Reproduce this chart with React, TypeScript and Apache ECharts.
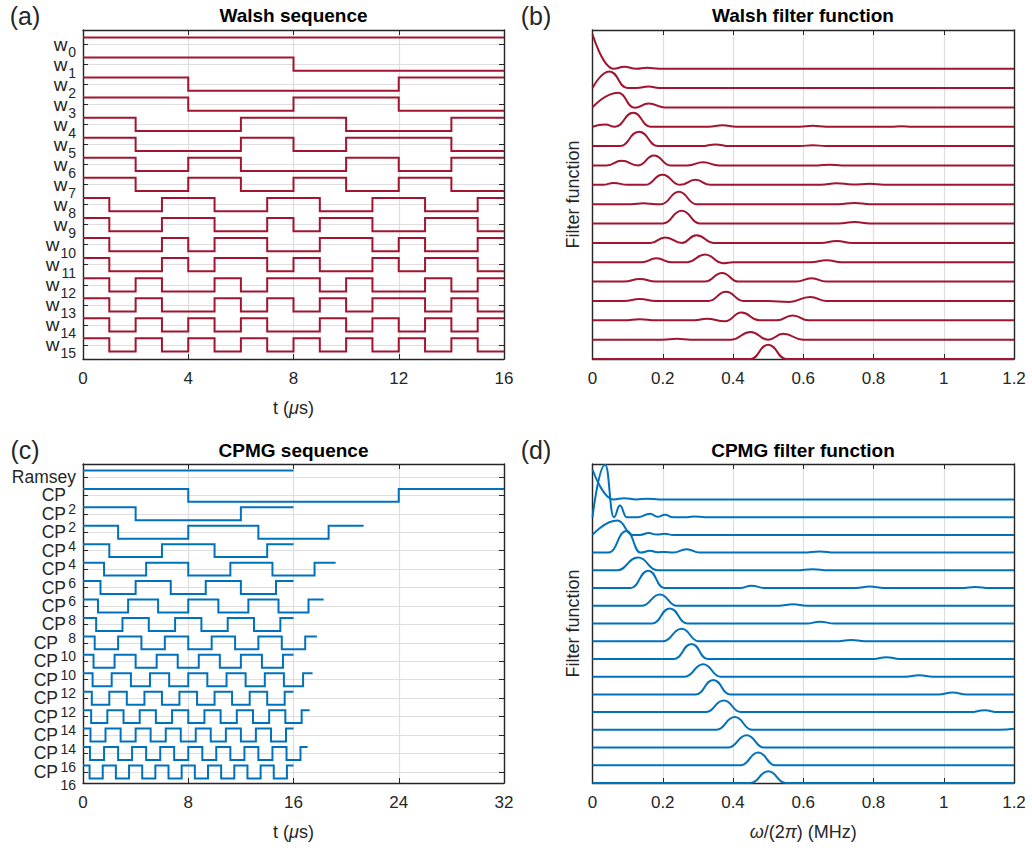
import React, { useEffect, useRef } from "react";
import * as echarts from "echarts";

// ---------------- data ----------------
const walshSubs = ["0", "1", "2", "3", "4", "5", "6", "7", "8", "9", "10", "11", "12", "13", "14", "15"];
// sign of each 1 µs slot
const walshRows = [
  "++++++++++++++++",
  "++++++++--------",
  "++++--------++++",
  "++++----++++----",
  "++----++++----++",
  "++----++--++++--",
  "++--++----++--++",
  "++--++--++--++--",
  "+--++--++--++--+",
  "+--++--+-++--++-",
  "+--+-++--++-+--+",
  "+--+-++-+--+-++-",
  "+-+--+-++-+--+-+",
  "+-+--+-+-+-++-+-",
  "+-+-+-+--+-+-+-+",
  "+-+-+-+-+-+-+-+-",
];
const walshSlotEdges = [0, 1, 2, 3, 4, 5, 6, 7, 8, 9, 10, 11, 12, 13, 14, 15, 16];

const cpNames = ["Ramsey", "CP", "CP", "CP", "CP", "CP", "CP", "CP", "CP", "CP", "CP", "CP", "CP", "CP", "CP", "CP", "CP"];
const cpSubs = ["", "2", "2", "4", "4", "6", "6", "8", "8", "10", "10", "12", "12", "14", "14", "16", "16"];
// switching times (µs) of each CPMG row, first level is "+"
const cpSwitchTimes = [
  [0, 16],
  [0, 8, 24, 32],
  [0, 4, 12, 16],
  [0, 2.67, 8, 13.33, 18.67, 21.33],
  [0, 2, 6, 10, 14, 16],
  [0, 1.6, 4.8, 8, 11.2, 14.4, 17.6, 19.2],
  [0, 1.33, 4, 6.67, 9.33, 12, 14.67, 16],
  [0, 1.14, 3.43, 5.71, 8, 10.29, 12.57, 14.86, 17.14, 18.29],
  [0, 1, 3, 5, 7, 9, 11, 13, 15, 16],
  [0, 0.89, 2.67, 4.44, 6.22, 8, 9.78, 11.56, 13.33, 15.11, 16.89, 17.78],
  [0, 0.8, 2.4, 4, 5.6, 7.2, 8.8, 10.4, 12, 13.6, 15.2, 16],
  [0, 0.73, 2.18, 3.64, 5.09, 6.55, 8, 9.45, 10.91, 12.36, 13.82, 15.27, 16.73, 17.45],
  [0, 0.67, 2, 3.33, 4.67, 6, 7.33, 8.67, 10, 11.33, 12.67, 14, 15.33, 16],
  [0, 0.62, 1.85, 3.08, 4.31, 5.54, 6.77, 8, 9.23, 10.46, 11.69, 12.92, 14.15, 15.38, 16.62, 17.23],
  [0, 0.57, 1.71, 2.86, 4, 5.14, 6.29, 7.43, 8.57, 9.71, 10.86, 12, 13.14, 14.29, 15.43, 16],
  [0, 0.53, 1.6, 2.67, 3.73, 4.8, 5.87, 6.93, 8, 9.07, 10.13, 11.2, 12.27, 13.33, 14.4, 15.47, 16.53, 17.07],
  [0, 0.5, 1.5, 2.5, 3.5, 4.5, 5.5, 6.5, 7.5, 8.5, 9.5, 10.5, 11.5, 12.5, 13.5, 14.5, 15.5, 16],
];

// Walsh filter functions: [frequency (MHz), height above own baseline]
const walshFilter = [
  [[0, 1.78], [0.06, 0], [0.09, 0.1], [0.125, 0], [0.155, 0.05], [0.19, 0], [1.2, 0]],
  [[0, 0], [0.048, 0.86], [0.1, 0], [0.125, 0], [0.16, 0.08], [0.19, 0], [1.2, 0]],
  [[0, 0], [0.073, 0.76], [0.12, -0.02], [0.16, 0.2], [0.205, 0], [1.2, 0]],
  [[0, 0], [0.036, 0.12], [0.064, 0], [0.116, 0.72], [0.165, 0], [0.33, 0], [0.37, 0.08], [0.41, 0], [0.59, 0], [0.627, 0.05], [0.665, 0], [0.85, 0], [0.88, 0.03], [0.91, 0], [1.2, 0]],
  [[0, 0], [0.078, 0], [0.132, 0.74], [0.187, 0], [0.31, 0], [0.35, 0.09], [0.39, 0], [0.59, 0], [0.627, 0.05], [0.665, 0], [1.2, 0]],
  [[0, 0], [0.04, 0], [0.083, 0.24], [0.13, 0], [0.175, 0.52], [0.222, 0], [0.27, 0], [0.315, 0.16], [0.36, 0], [0.64, 0], [0.675, 0.04], [0.71, 0], [1.2, 0]],
  [[0, 0], [0.03, 0], [0.06, 0.1], [0.1, 0], [0.15, 0], [0.199, 0.52], [0.25, 0], [0.293, 0.26], [0.335, 0], [0.65, 0], [0.695, 0.08], [0.74, 0.02], [0.79, 0.05], [0.83, 0], [1.2, 0]],
  [[0, 0], [0.11, 0], [0.145, 0.05], [0.18, 0], [0.195, 0], [0.246, 0.64], [0.296, 0], [0.7, 0], [0.746, 0.06], [0.79, 0], [1.2, 0]],
  [[0, 0], [0.2, 0], [0.254, 0.66], [0.306, 0], [0.7, 0], [0.746, 0.08], [0.79, 0], [1.2, 0]],
  [[0, 0], [0.165, 0], [0.207, 0.28], [0.254, 0], [0.296, 0.4], [0.345, 0], [0.65, 0], [0.695, 0.1], [0.74, 0], [1.2, 0]],
  [[0, 0], [0.14, 0], [0.182, 0.2], [0.225, 0], [0.27, 0], [0.32, 0.4], [0.372, -0.05], [0.4, 0], [0.62, 0], [0.667, 0.1], [0.71, 0], [1.2, 0]],
  [[0, 0], [0.09, 0], [0.135, 0.14], [0.18, 0], [0.32, 0], [0.369, 0.45], [0.415, 0], [0.58, 0], [0.624, 0.17], [0.665, 0], [1.2, 0]],
  [[0, 0], [0.09, 0], [0.135, 0.1], [0.18, 0], [0.33, 0], [0.38, 0.47], [0.43, 0], [0.5, 0], [0.56, -0.05], [0.62, 0.21], [0.665, 0], [1.2, 0]],
  [[0, 0], [0.09, 0], [0.135, 0.06], [0.18, 0], [0.29, 0], [0.325, 0.08], [0.377, -0.05], [0.424, 0.4], [0.475, 0], [0.525, 0], [0.57, 0.25], [0.615, 0], [1.2, 0]],
  [[0, 0], [0.2, 0], [0.24, 0.04], [0.28, 0], [0.395, 0], [0.45, 0.4], [0.5, 0], [0.543, 0.3], [0.6, 0], [1.2, 0]],
  [[0, 0], [0.45, 0], [0.5, 0.74], [0.552, 0], [1.2, 0]],
];

// CPMG filter functions: [frequency (MHz), height above own baseline]
const cpmgFilter = [
  [[0, 1.69], [0.06, 0], [0.09, 0.07], [0.125, 0], [0.155, 0.04], [0.19, 0], [1.2, 0]],
  [[0, 0], [0.036, 2.96], [0.061, 0], [0.078, 0.66], [0.097, 0], [0.13, 0], [0.164, 0.19], [0.185, 0.02], [0.206, 0.13], [0.23, 0], [0.27, 0], [0.29, 0.04], [0.32, 0], [1.2, 0]],
  [[0, 0], [0.071, 0.81], [0.115, 0], [0.135, 0], [0.16, 0.1], [0.183, 0.02], [0.205, 0.06], [0.23, 0], [1.2, 0]],
  [[0, 0], [0.045, 0], [0.097, 1.22], [0.137, 0], [0.164, 0.1], [0.185, 0.02], [0.205, 0.04], [0.23, 0], [0.268, 0.19], [0.305, 0], [0.6, 0], [0.647, 0.06], [0.69, 0], [1.2, 0]],
  [[0, 0], [0.069, 0], [0.13, 0.72], [0.185, 0], [0.58, 0], [0.627, 0.06], [0.67, 0], [1.2, 0]],
  [[0, 0], [0.108, 0], [0.159, 0.98], [0.205, 0], [0.42, 0], [0.453, 0.13], [0.49, 0], [0.75, 0], [0.789, 0.09], [0.83, 0], [1.05, 0], [1.09, 0.06], [1.13, 0], [1.2, 0]],
  [[0, 0], [0.14, 0], [0.192, 0.64], [0.24, 0], [0.53, 0], [0.571, 0.08], [0.61, 0], [1.2, 0]],
  [[0, 0], [0.17, 0], [0.22, 0.85], [0.27, 0], [0.61, 0], [0.647, 0.1], [0.69, 0], [1.2, 0]],
  [[0, 0], [0.2, 0], [0.254, 0.7], [0.302, 0], [0.7, 0], [0.737, 0.07], [0.775, 0], [1.2, 0]],
  [[0, 0], [0.232, 0], [0.282, 0.85], [0.328, 0], [0.8, 0], [0.837, 0.1], [0.875, 0], [1.2, 0]],
  [[0, 0], [0.263, 0], [0.315, 0.7], [0.365, 0], [0.89, 0], [0.93, 0.08], [0.97, 0], [1.2, 0]],
  [[0, 0], [0.294, 0], [0.344, 0.81], [0.392, 0], [0.985, 0], [1.025, 0.1], [1.065, 0], [1.2, 0]],
  [[0, 0], [0.322, 0], [0.374, 0.66], [0.422, 0], [1.075, 0], [1.116, 0.1], [1.155, 0], [1.2, 0]],
  [[0, 0], [0.353, 0], [0.405, 0.72], [0.455, 0], [1.16, 0], [1.2, 0.06]],
  [[0, 0], [0.386, 0], [0.439, 0.7], [0.488, 0], [1.2, 0]],
  [[0, 0], [0.422, 0], [0.472, 0.72], [0.52, 0], [1.2, 0]],
  [[0, 0], [0.45, 0], [0.5, 0.66], [0.55, 0], [1.2, 0]],
];

// ---------------- style ----------------
const FONT = "'Liberation Sans', Arial, Helvetica, sans-serif";
const TXT = "#262626";
const AX = "#262626";
const GRIDC = "#dedede";
const RED = "#A2142F";
const BLUE = "#0072BD";
const AMP_A = 0.33;
const AMP_C = 0.35;
// vertical drop of the subscript labels, in row units
const SUB_DROP_A = 0.12;
const SUB_DROP_C = 0.41;
const RANGE_A = [-0.7, 15.7];
const RANGE_C = [-0.7, 16.6];

const axisLineStyle = { color: AX, width: 1.4 };
const tickCfg = (extra: any = {}) => ({ show: true, inside: true, length: 5, lineStyle: { color: AX, width: 1 }, ...extra });

function xBottom(gi: number, max: number, interval: number, name?: string) {
  return {
    type: "value", gridIndex: gi, position: "bottom", min: 0, max, interval,
    axisLine: { show: true, onZero: false, lineStyle: axisLineStyle },
    axisTick: tickCfg(),
    axisLabel: { show: true, margin: 11, fontSize: 17, color: TXT, fontFamily: FONT, showMinLabel: true, showMaxLabel: true },
    splitLine: { show: true, lineStyle: { color: GRIDC, width: 1.2 } },
    name: name || "", nameLocation: "middle", nameGap: 40,
    nameTextStyle: {
      fontSize: 18, color: TXT, fontFamily: FONT,
      rich: { i: { fontStyle: "italic", fontSize: 18, color: TXT, fontFamily: FONT } },
    },
  };
}
function xTop(gi: number, max: number, interval: number) {
  return {
    type: "value", gridIndex: gi, position: "top", min: 0, max, interval,
    axisLine: { show: true, onZero: false, lineStyle: axisLineStyle },
    axisTick: tickCfg(),
    axisLabel: { show: false },
    splitLine: { show: false },
  };
}

export default function App() {
  const ref = useRef<HTMLDivElement>(null);
  useEffect(() => {
    const chart = echarts.init(ref.current!, null, { renderer: "svg" });

    const walshIdx = walshRows.map((_, k) => k);
    const cpIdx = cpNames.map((_, k) => k);
    const cpSubIdx = cpIdx.filter((k) => cpSubs[k] !== "");

    const series: any[] = [];
    walshRows.forEach((row, k) => {
      const pts: number[][] = [];
      for (let i = 0; i < row.length; i++) {
        const y = k + (row[i] === "+" ? -AMP_A : AMP_A);
        pts.push([walshSlotEdges[i], y], [walshSlotEdges[i + 1], y]);
      }
      series.push({
        type: "line", xAxisIndex: 0, yAxisIndex: 0, data: pts, symbol: "none",
        lineStyle: { color: RED, width: 2, join: "miter" }, silent: true, clip: false,
      });
    });
    cpSwitchTimes.forEach((times, k) => {
      const pts: number[][] = [];
      for (let i = 0; i < times.length - 1; i++) {
        const y = k + (i % 2 === 0 ? -AMP_C : AMP_C);
        pts.push([times[i], y], [times[i + 1], y]);
      }
      series.push({
        type: "line", xAxisIndex: 4, yAxisIndex: 4, data: pts, symbol: "none",
        lineStyle: { color: BLUE, width: 2, join: "miter" }, silent: true, clip: false,
      });
    });
    const nW = walshFilter.length;
    walshFilter.forEach((curve, k) => {
      const base = nW - 1 - k;
      series.push({
        type: "line", xAxisIndex: 2, yAxisIndex: 2, symbol: "none", smooth: 0.5, smoothMonotone: "x",
        data: curve.map(([f, h]) => [f, base + h]),
        lineStyle: { color: RED, width: 2 }, silent: true, clip: false,
      });
    });
    const nC = cpmgFilter.length;
    cpmgFilter.forEach((curve, k) => {
      const base = nC - 1 - k;
      series.push({
        type: "line", xAxisIndex: 6, yAxisIndex: 6, symbol: "none", smooth: 0.5, smoothMonotone: "x",
        data: curve.map(([f, h]) => [f, base + h]),
        lineStyle: { color: BLUE, width: 2 }, silent: true, clip: false,
      });
    });

    const filterNameStyle = { fontSize: 18, color: TXT, fontFamily: FONT };
    const subLabelStyle = {
      show: true, margin: 7, verticalAlign: "top", fontSize: 14, lineHeight: 12,
      color: TXT, fontFamily: FONT, showMinLabel: true, showMaxLabel: true,
    };
    const hiddenAxis = {
      axisLine: { show: false }, axisTick: { show: false }, splitLine: { show: false },
    };

    const option: any = {
      animation: false,
      backgroundColor: "#ffffff",
      textStyle: { fontFamily: FONT },
      grid: [
        { left: 83, top: 30, width: 421, height: 329 },
        { left: 592.5, top: 30, width: 421.5, height: 329 },
        { left: 83, top: 464, width: 421, height: 319 },
        { left: 592.5, top: 464, width: 421.5, height: 319 },
      ],
      xAxis: [
        xBottom(0, 16, 4, "t ({i|μ}s)"),
        xTop(0, 16, 4),
        xBottom(1, 1.2, 0.2),
        xTop(1, 1.2, 0.2),
        xBottom(2, 32, 8, "t ({i|μ}s)"),
        xTop(2, 32, 8),
        xBottom(3, 1.2, 0.2, "{i|ω}/(2{i|π}) (MHz)"),
        xTop(3, 1.2, 0.2),
      ],
      yAxis: [
        {
          type: "value", gridIndex: 0, position: "left", inverse: true, min: RANGE_A[0], max: RANGE_A[1],
          axisLine: { show: true, onZero: false, lineStyle: axisLineStyle },
          axisTick: tickCfg({ customValues: walshIdx }),
          axisLabel: {
            show: true, customValues: walshIdx, margin: 7, showMinLabel: true, showMaxLabel: true,
            formatter: (v: number) => {
              const s = walshSubs[Math.round(v)];
              return `{m|w}{${s.length > 1 ? "p2" : "p1"}| }`;
            },
            rich: {
              m: { fontSize: 19, lineHeight: 12, color: TXT, fontFamily: FONT },
              p1: { width: 8.5, fontSize: 8, lineHeight: 12 },
              p2: { width: 16.5, fontSize: 8, lineHeight: 12 },
            },
          },
          splitLine: { show: true, lineStyle: { color: GRIDC, width: 1.2 } },
        },
        {
          type: "value", gridIndex: 0, position: "right", inverse: true, min: RANGE_A[0], max: RANGE_A[1],
          axisLine: { show: true, onZero: false, lineStyle: axisLineStyle },
          axisTick: tickCfg({ customValues: walshIdx }),
          axisLabel: { show: false },
          splitLine: { show: false },
        },
        {
          type: "value", gridIndex: 1, position: "left", min: 0, max: 17,
          axisLine: { show: true, onZero: false, lineStyle: axisLineStyle },
          axisTick: { show: false }, axisLabel: { show: false }, splitLine: { show: false },
          name: "Filter function", nameLocation: "middle", nameGap: 11, nameTextStyle: filterNameStyle,
        },
        {
          type: "value", gridIndex: 1, position: "right", min: 0, max: 17,
          axisLine: { show: true, onZero: false, lineStyle: axisLineStyle },
          axisTick: { show: false }, axisLabel: { show: false }, splitLine: { show: false },
        },
        {
          type: "value", gridIndex: 2, position: "left", inverse: true, min: RANGE_C[0], max: RANGE_C[1],
          axisLine: { show: true, onZero: false, lineStyle: axisLineStyle },
          axisTick: tickCfg({ customValues: cpIdx }),
          axisLabel: {
            show: true, customValues: cpIdx, margin: 7, showMinLabel: true, showMaxLabel: true,
            formatter: (v: number) => {
              const k = Math.round(v);
              if (!cpSubs[k]) return `{m|${cpNames[k]}}`;
              return `{m|${cpNames[k]}}{${cpSubs[k].length > 1 ? "q2" : "q1"}| }`;
            },
            rich: {
              m: { fontSize: 17.5, lineHeight: 14, color: TXT, fontFamily: FONT },
              q1: { width: 10, fontSize: 8, lineHeight: 14 },
              q2: { width: 18, fontSize: 8, lineHeight: 14 },
            },
          },
          splitLine: { show: true, lineStyle: { color: GRIDC, width: 1.2 } },
        },
        {
          type: "value", gridIndex: 2, position: "right", inverse: true, min: RANGE_C[0], max: RANGE_C[1],
          axisLine: { show: true, onZero: false, lineStyle: axisLineStyle },
          axisTick: tickCfg({ customValues: cpIdx }),
          axisLabel: { show: false },
          splitLine: { show: false },
        },
        {
          type: "value", gridIndex: 3, position: "left", min: 0, max: 18,
          axisLine: { show: true, onZero: false, lineStyle: axisLineStyle },
          axisTick: { show: false }, axisLabel: { show: false }, splitLine: { show: false },
          name: "Filter function", nameLocation: "middle", nameGap: 11, nameTextStyle: filterNameStyle,
        },
        {
          type: "value", gridIndex: 3, position: "right", min: 0, max: 18,
          axisLine: { show: true, onZero: false, lineStyle: axisLineStyle },
          axisTick: { show: false }, axisLabel: { show: false }, splitLine: { show: false },
        },
        // subscript label axes (shifted copies of the row axes)
        {
          type: "value", gridIndex: 0, position: "left", inverse: true,
          min: RANGE_A[0] - SUB_DROP_A, max: RANGE_A[1] - SUB_DROP_A, ...hiddenAxis,
          axisLabel: { ...subLabelStyle, customValues: walshIdx, formatter: (v: number) => walshSubs[Math.round(v)] },
        },
        {
          type: "value", gridIndex: 2, position: "left", inverse: true,
          min: RANGE_C[0] - SUB_DROP_C, max: RANGE_C[1] - SUB_DROP_C, ...hiddenAxis,
          axisLabel: { ...subLabelStyle, customValues: cpSubIdx, formatter: (v: number) => cpSubs[Math.round(v)] },
        },
      ],
      graphic: [
        { type: "text", x: 25, y: 16, style: { text: "(a)", fontSize: 25, fontFamily: FONT, fill: TXT, align: "center", verticalAlign: "middle" } },
        { type: "text", x: 536, y: 16, style: { text: "(b)", fontSize: 25, fontFamily: FONT, fill: TXT, align: "center", verticalAlign: "middle" } },
        { type: "text", x: 25, y: 450, style: { text: "(c)", fontSize: 25, fontFamily: FONT, fill: TXT, align: "center", verticalAlign: "middle" } },
        { type: "text", x: 536, y: 450, style: { text: "(d)", fontSize: 25, fontFamily: FONT, fill: TXT, align: "center", verticalAlign: "middle" } },
        { type: "text", x: 293.5, y: 15, style: { text: "Walsh sequence", fontSize: 19, fontWeight: "bold", fontFamily: FONT, fill: "#000", align: "center", verticalAlign: "middle" } },
        { type: "text", x: 803, y: 15, style: { text: "Walsh filter function", fontSize: 19, fontWeight: "bold", fontFamily: FONT, fill: "#000", align: "center", verticalAlign: "middle" } },
        { type: "text", x: 293.5, y: 450, style: { text: "CPMG sequence", fontSize: 19, fontWeight: "bold", fontFamily: FONT, fill: "#000", align: "center", verticalAlign: "middle" } },
        { type: "text", x: 803, y: 450, style: { text: "CPMG filter function", fontSize: 19, fontWeight: "bold", fontFamily: FONT, fill: "#000", align: "center", verticalAlign: "middle" } },
      ],
      series,
    };
    chart.setOption(option);
    return () => chart.dispose();
  }, []);
  return (
    <div
      ref={ref}
      style={{ position: "fixed", left: 0, top: 0, width: 1032, height: 850, background: "#fff" }}
    />
  );
}
